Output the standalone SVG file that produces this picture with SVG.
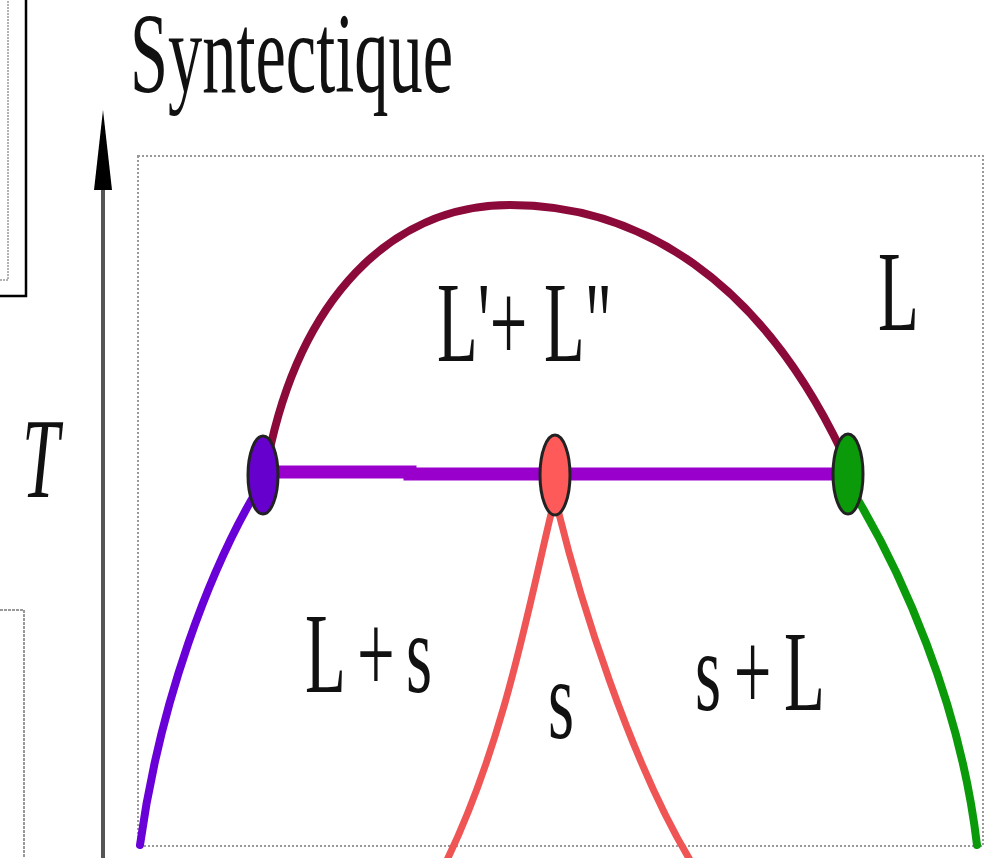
<svg xmlns="http://www.w3.org/2000/svg" width="995" height="858" viewBox="0 0 995 858">
<style>
.lbl{font-family:"Liberation Serif","Times New Roman",serif;font-size:67px;fill:#111}
.curve{fill:none;stroke-linecap:round}
.pt{stroke:#222;stroke-width:3}
</style>
<rect width="995" height="858" fill="#fff"/>
<g id="fragments">
<path d="M0,296 H26 V0" fill="none" stroke="#000" stroke-width="2.5"/>
<path d="M0,280 H8 V0" fill="none" stroke="#999" stroke-width="1.5" stroke-dasharray="2,1"/>
<path d="M0,610 H24 V858" fill="none" stroke="#999" stroke-width="2" stroke-dasharray="3,1"/>
</g>
<g id="frame">
<rect x="138" y="156" width="845" height="690" fill="none" stroke="#999" stroke-width="2" stroke-dasharray="2,2"/>
</g>
<g id="axis">
<line x1="103" y1="185" x2="103" y2="858" stroke="#555" stroke-width="4"/>
<polygon points="103,110 112,190 94,190" fill="#000"/>
<text class="lbl" font-style="italic" transform="translate(22,497) scale(1,1.7)">T</text>
</g>
<g id="title">
<text class="lbl" transform="translate(130,92) scale(1,1.7)" textLength="323" lengthAdjust="spacingAndGlyphs">Syntectique</text>
</g>
<g id="connectors">
<path id="dome" class="curve" d="M268,458 C300,300 390,205 510,205 C640,205 760,280 842,452" stroke="#8B0A3A" stroke-width="8"/>
<path id="tie" d="M262,472 H410 V474 H848" fill="none" stroke="#9A00CC" stroke-width="13"/>
<path id="liq-left" class="curve" d="M256,492 C210,570 160,700 140,845" stroke="#6A00D8" stroke-width="8"/>
<path id="liq-right" class="curve" d="M855,495 C900,570 960,700 977,845" stroke="#0A9A0A" stroke-width="8"/>
<path id="sol-left" class="curve" d="M552,510 C530,600 505,740 447,860" stroke="#F05555" stroke-width="7"/>
<path id="sol-right" class="curve" d="M558,510 C580,600 630,760 690,860" stroke="#F05555" stroke-width="7"/>
</g>
<g id="point-left"><ellipse class="pt" cx="263" cy="475" rx="15" ry="39" fill="#6600CC"/></g>
<g id="point-mid"><ellipse class="pt" cx="555" cy="475" rx="15" ry="40" fill="#FF5A5A"/></g>
<g id="point-right"><ellipse class="pt" cx="848" cy="474" rx="15" ry="40" fill="#0A9A0A"/></g>
<g id="labels">
<text class="lbl" transform="translate(437,361) scale(1,1.7)" textLength="175" lengthAdjust="spacingAndGlyphs">L'+ L"</text>
<text class="lbl" transform="translate(878,330) scale(1,1.7)">L</text>
<text class="lbl" transform="translate(305,692) scale(1,1.7)" textLength="127" lengthAdjust="spacing">L+s</text>
<text class="lbl" transform="translate(548,738) scale(1,1.7)">s</text>
<text class="lbl" transform="translate(695,710) scale(1,1.7)" textLength="130" lengthAdjust="spacing">s+L</text>
</g>
</svg>
